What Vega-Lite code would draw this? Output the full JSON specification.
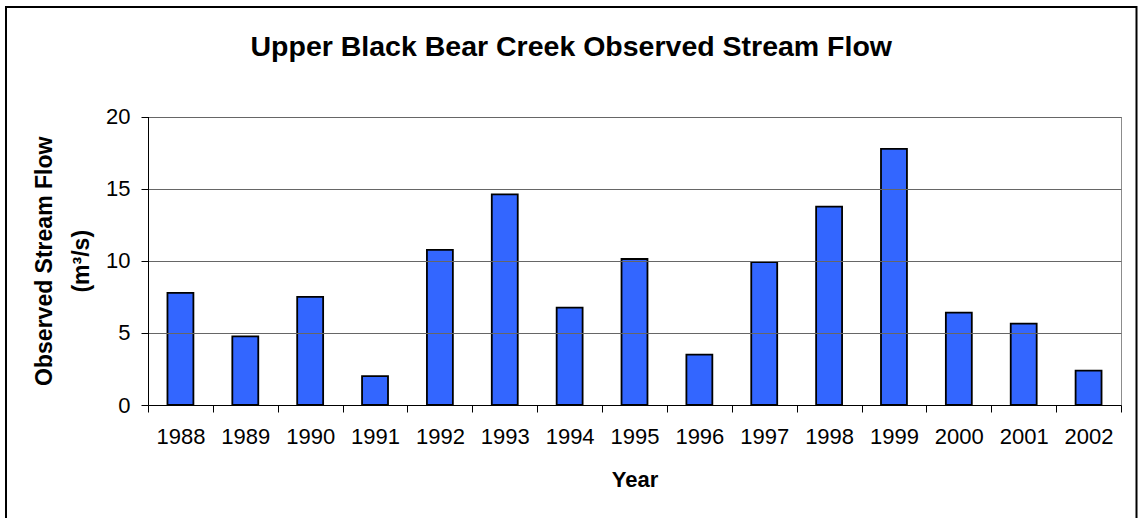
{
  "$schema": "https://vega.github.io/schema/vega-lite/v6.json",
  "width": 1130.5,
  "height": 511,
  "autosize": {"type": "none"},
  "padding": {"left": 6, "top": 7, "right": 1.5, "bottom": 0},
  "background": "white",
  "title": {
    "text": "Upper Black Bear Creek Observed Stream Flow",
    "font": "Liberation Sans",
    "fontSize": 28.5,
    "fontWeight": "bold",
    "color": "black",
    "anchor": "middle",
    "frame": "group",
    "orient": "top",
    "baseline": "alphabetic",
    "offset": -77
  },
  "data": {
    "values": [
      {"Year": "1988", "Flow": 7.77},
      {"Year": "1989", "Flow": 4.76},
      {"Year": "1990", "Flow": 7.49},
      {"Year": "1991", "Flow": 2.0},
      {"Year": "1992", "Flow": 10.75},
      {"Year": "1993", "Flow": 14.6},
      {"Year": "1994", "Flow": 6.75},
      {"Year": "1995", "Flow": 10.12},
      {"Year": "1996", "Flow": 3.49},
      {"Year": "1997", "Flow": 9.9},
      {"Year": "1998", "Flow": 13.75},
      {"Year": "1999", "Flow": 17.75},
      {"Year": "2000", "Flow": 6.4},
      {"Year": "2001", "Flow": 5.64},
      {"Year": "2002", "Flow": 2.38}
    ]
  },
  "encoding": {
    "x": {
      "field": "Year",
      "type": "ordinal",
      "scale": {"range": [142, 1115], "paddingInner": 0, "paddingOuter": 0},
      "axis": {
        "orient": "bottom",
        "offset": -113,
        "title": "Year",
        "titleFont": "Liberation Sans",
        "titleFontSize": 22,
        "titleFontWeight": "bold",
        "titleColor": "black",
        "titlePadding": 22,
        "labelAngle": 0,
        "labelFont": "Liberation Sans",
        "labelFontSize": 22,
        "labelColor": "black",
        "labelPadding": 14,
        "tickBand": "extent",
        "tickSize": 7,
        "tickColor": "black",
        "tickWidth": 1,
        "domainColor": "black",
        "domainWidth": 1,
        "grid": false,
        "zindex": 1
      }
    }
  },
  "layer": [
    {
      "mark": {"type": "bar", "opacity": 0, "width": {"band": 0.4}},
      "encoding": {
        "y": {
          "field": "Flow",
          "type": "quantitative",
          "scale": {"domain": [0, 20], "range": [398, 109.5], "nice": false},
          "axis": {
            "orient": "right",
            "offset": -15.5,
            "title": null,
            "labels": false,
            "ticks": false,
            "grid": false,
            "domainColor": "#8c8c8c",
            "domainWidth": 1
          }
        }
      }
    },
    {
      "mark": {
        "type": "bar",
        "width": {"band": 0.4},
        "fill": "#3366ff",
        "stroke": "black",
        "strokeWidth": 1.8
      },
      "encoding": {
        "y": {
          "field": "Flow",
          "type": "quantitative",
          "scale": {"domain": [0, 20], "range": [398, 109.5], "nice": false},
          "axis": {
            "orient": "left",
            "offset": -142,
            "values": [0, 5, 10, 15, 20],
            "title": ["Observed Stream Flow", "(m³/s)"],
            "titleFont": "Liberation Sans",
            "titleFontSize": 23,
            "titleFontWeight": "bold",
            "titleColor": "black",
            "titleLineHeight": 37,
            "titlePadding": 12,
            "labelFont": "Liberation Sans",
            "labelFontSize": 22,
            "labelColor": "black",
            "labelPadding": 11,
            "tickSize": 7,
            "tickColor": "black",
            "tickWidth": 1,
            "domainColor": "black",
            "domainWidth": 1,
            "grid": true,
            "gridColor": "#666666",
            "gridWidth": 1,
            "zindex": 1
          }
        }
      }
    }
  ],
  "resolve": {"axis": {"y": "independent"}},
  "config": {
    "view": {
      "stroke": "black",
      "strokeWidth": 2,
      "strokeDash": [1641.5, 1130.5, 530]
    }
  }
}
